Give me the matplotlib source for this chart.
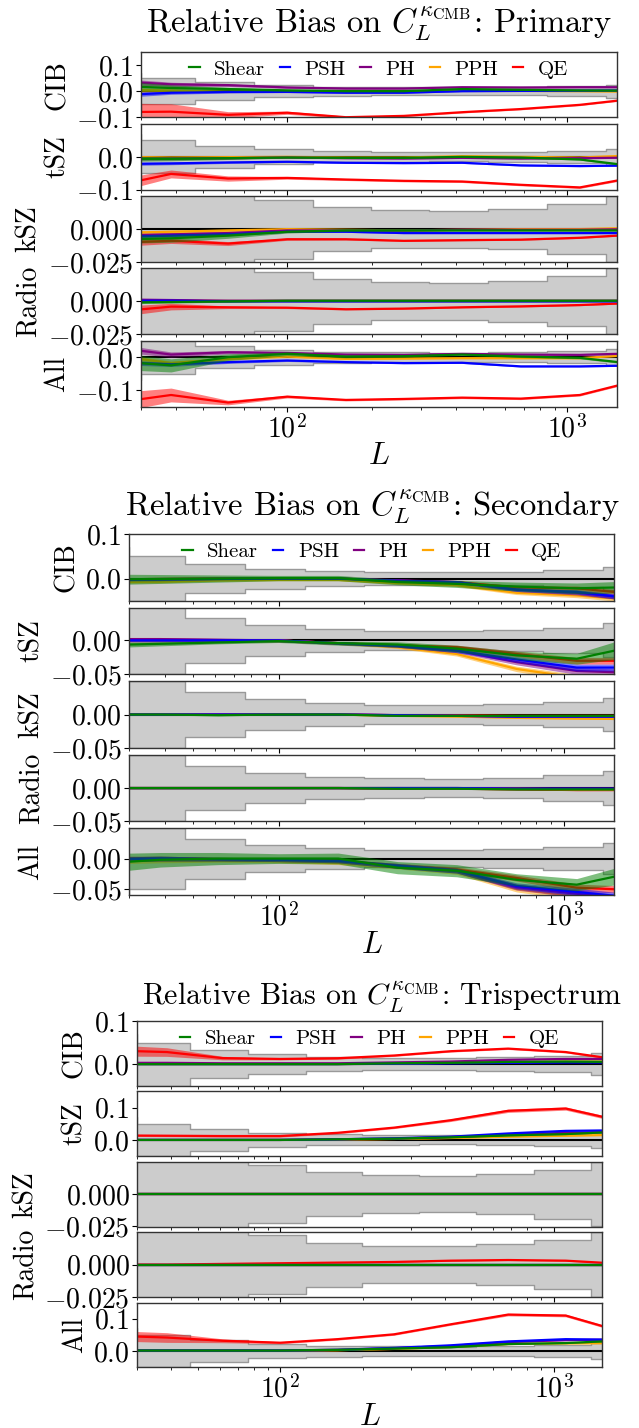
import numpy as np
import matplotlib
matplotlib.use('Agg')
import matplotlib.pyplot as plt

plt.rcParams['font.family'] = 'serif'
plt.rcParams['font.serif'] = ['cmr10', 'DejaVu Serif']
plt.rcParams['mathtext.fontset'] = 'cm'
plt.rcParams['axes.formatter.use_mathtext'] = True

# ---------------- data ----------------
L_centers = [24, 38.5, 61.5, 100, 162, 261, 421, 682, 1108, 1796]
bin_edges = [18.5, 30, 46.9, 76.2, 124, 199.5, 322, 520, 845, 1371, 2220]
sigma_band = [0.07, 0.05, 0.033, 0.0225, 0.017, 0.0145, 0.014, 0.0155, 0.019, 0.025, 0.025]

estimators = ['Shear', 'PSH', 'PH', 'PPH', 'QE']
colors = ['green', 'blue', 'purple', 'orange', 'red']
panels = ['CIB', 'tSZ', 'kSZ', 'Radio', 'All']

# Primary  (rows: Shear, PSH, PH, PPH, QE)
pri_cib = [[0.02, 0.012, 0.008, 0.003, 0.0, 0.0, 0.008, 0.005, 0.003, 0.002],
           [-0.016, -0.006, -0.003, -0.003, -0.006, -0.006, 0.0, 0.001, 0.002, 0.003],
           [0.038, 0.026, 0.023, 0.014, 0.01, 0.01, 0.015, 0.014, 0.015, 0.015],
           [0.005, 0.002, -0.002, 0.0, -0.002, -0.002, 0.003, 0.001, 0.0, -0.002],
           [-0.08, -0.078, -0.09, -0.082, -0.099, -0.094, -0.08, -0.068, -0.052, -0.027]]
pri_cib_err = [[0.02, 0.012, 0.006, 0.003, 0.002, 0.002, 0.002, 0.002, 0.002, 0.002],
               [0.01, 0.006, 0.004, 0.002, 0.002, 0.002, 0.002, 0.002, 0.002, 0.002],
               [0.012, 0.008, 0.005, 0.003, 0.002, 0.002, 0.002, 0.002, 0.002, 0.002],
               [0.01, 0.006, 0.004, 0.002, 0.002, 0.002, 0.002, 0.002, 0.002, 0.002],
               [0.035, 0.03, 0.012, 0.006, 0.004, 0.003, 0.003, 0.003, 0.003, 0.003]]
pri_tsz = [[-0.006, -0.006, -0.004, -0.002, -0.003, -0.003, 0.0, -0.002, -0.008, -0.03],
           [-0.022, -0.02, -0.017, -0.015, -0.018, -0.019, -0.018, -0.026, -0.028, -0.026],
           [-0.006, -0.005, -0.004, -0.002, -0.004, -0.005, -0.003, -0.005, -0.004, -0.002],
           [0.0, -0.002, -0.001, 0.0, -0.002, -0.002, 0.002, 0.0, -0.002, 0.005],
           [-0.089, -0.052, -0.066, -0.064, -0.069, -0.073, -0.075, -0.085, -0.093, -0.06]]
pri_tsz_err = [[0.008, 0.006, 0.004, 0.002, 0.002, 0.002, 0.002, 0.002, 0.002, 0.002],
               [0.005, 0.004, 0.003, 0.002, 0.002, 0.002, 0.002, 0.002, 0.002, 0.002],
               [0.005, 0.004, 0.003, 0.002, 0.002, 0.002, 0.002, 0.002, 0.002, 0.002],
               [0.005, 0.004, 0.003, 0.002, 0.002, 0.002, 0.002, 0.002, 0.002, 0.002],
               [0.02, 0.012, 0.008, 0.004, 0.003, 0.003, 0.003, 0.003, 0.003, 0.003]]
pri_ksz = [[-0.008, -0.007, -0.005, -0.002, -0.001, -0.001, -0.001, -0.001, -0.001, -0.001],
           [-0.006, -0.005, -0.004, -0.002, -0.002, -0.003, -0.003, -0.003, -0.003, -0.003],
           [-0.005, -0.004, -0.003, -0.001, -0.001, -0.001, -0.0005, -0.0005, -0.0005, 0.0],
           [-0.003, -0.002, -0.001, 0.0, -0.0005, -0.001, -0.0005, 0.0, 0.0, 0.001],
           [-0.0105, -0.0089, -0.011, -0.0077, -0.0077, -0.0089, -0.0084, -0.008, -0.0066, -0.004]]
pri_ksz_err = [[0.003, 0.003, 0.002, 0.001, 0.0006, 0.0005, 0.0005, 0.0005, 0.0005, 0.0005],
               [0.0015, 0.0012, 0.001, 0.0006, 0.0005, 0.0005, 0.0005, 0.0005, 0.0005, 0.0005],
               [0.0015, 0.0012, 0.001, 0.0006, 0.0005, 0.0005, 0.0005, 0.0005, 0.0005, 0.0005],
               [0.0015, 0.0012, 0.001, 0.0006, 0.0005, 0.0005, 0.0005, 0.0005, 0.0005, 0.0005],
               [0.003, 0.002, 0.0015, 0.0008, 0.0006, 0.0005, 0.0005, 0.0005, 0.0005, 0.0005]]
pri_radio = [[-0.001, -0.0005, 0.0, 0.0005, 0.0005, 0.0005, 0.0005, 0.0005, 0.0005, 0.0005],
             [0.0005, 0.0005, 0.0, 0.0, 0.0, 0.0, 0.0, 0.0, 0.0, 0.0],
             [0.0015, 0.001, 0.0005, 0.0005, 0.0005, 0.0005, 0.0005, 0.0005, 0.0005, 0.0005],
             [0.0, 0.0, 0.0, 0.0, 0.0, 0.0, 0.0, 0.0, 0.0, 0.0],
             [-0.008, -0.004, -0.0045, -0.0048, -0.006, -0.0055, -0.0045, -0.0038, -0.0028, -0.001]]
pri_radio_err = [[0.001, 0.0008, 0.0006, 0.0005, 0.0005, 0.0005, 0.0005, 0.0005, 0.0005, 0.0005],
                 [0.001, 0.0008, 0.0006, 0.0005, 0.0005, 0.0005, 0.0005, 0.0005, 0.0005, 0.0005],
                 [0.001, 0.0008, 0.0006, 0.0005, 0.0005, 0.0005, 0.0005, 0.0005, 0.0005, 0.0005],
                 [0.001, 0.0008, 0.0006, 0.0005, 0.0005, 0.0005, 0.0005, 0.0005, 0.0005, 0.0005],
                 [0.004, 0.0025, 0.001, 0.0007, 0.0005, 0.0005, 0.0005, 0.0005, 0.0005, 0.0005]]
pri_all = [[-0.012, -0.025, 0.0, 0.01, 0.002, 0.003, 0.008, 0.002, -0.002, -0.022],
           [-0.015, -0.022, -0.015, -0.01, -0.015, -0.018, -0.017, -0.028, -0.028, -0.025],
           [0.03, 0.008, 0.015, 0.013, 0.008, 0.007, 0.01, 0.008, 0.007, 0.012],
           [0.005, -0.018, -0.005, 0.002, -0.005, -0.004, -0.003, -0.003, -0.003, 0.008],
           [-0.139, -0.115, -0.138, -0.12, -0.13, -0.127, -0.123, -0.126, -0.115, -0.07]]
pri_all_err = [[0.025, 0.02, 0.01, 0.006, 0.004, 0.003, 0.003, 0.003, 0.003, 0.003],
               [0.008, 0.006, 0.004, 0.003, 0.002, 0.002, 0.002, 0.002, 0.002, 0.002],
               [0.012, 0.008, 0.005, 0.003, 0.002, 0.002, 0.002, 0.002, 0.002, 0.002],
               [0.008, 0.006, 0.004, 0.003, 0.002, 0.002, 0.002, 0.002, 0.002, 0.002],
               [0.03, 0.021, 0.007, 0.004, 0.003, 0.003, 0.003, 0.003, 0.003, 0.003]]

# Secondary
sec_cib = [[-0.002, -0.001, 0.0, 0.001, 0.001, -0.008, -0.012, -0.018, -0.022, -0.019],
           [-0.003, -0.002, -0.001, 0.0, 0.0, -0.005, -0.008, -0.025, -0.03, -0.046],
           [-0.002, -0.001, 0.0, 0.0, 0.0, -0.004, -0.008, -0.025, -0.032, -0.045],
           [-0.008, -0.007, -0.004, -0.003, -0.003, -0.01, -0.015, -0.032, -0.038, -0.049],
           [-0.002, -0.001, 0.0, 0.0, 0.0, -0.005, -0.008, -0.02, -0.022, -0.035]]
sec_cib_err = [[0.012, 0.01, 0.008, 0.006, 0.006, 0.006, 0.008, 0.01, 0.012, 0.014],
               [0.003, 0.003, 0.002, 0.002, 0.002, 0.003, 0.003, 0.004, 0.005, 0.006],
               [0.003, 0.003, 0.002, 0.002, 0.002, 0.003, 0.003, 0.004, 0.005, 0.006],
               [0.003, 0.003, 0.002, 0.002, 0.002, 0.003, 0.003, 0.004, 0.005, 0.006],
               [0.003, 0.003, 0.002, 0.002, 0.002, 0.003, 0.003, 0.004, 0.005, 0.006]]
sec_tsz = [[-0.007, -0.005, -0.003, -0.001, -0.004, -0.006, -0.012, -0.022, -0.027, -0.008],
           [0.0, 0.0, 0.0, 0.0, -0.004, -0.008, -0.015, -0.028, -0.04, -0.04],
           [0.002, 0.002, 0.001, 0.0, -0.004, -0.008, -0.015, -0.032, -0.045, -0.048],
           [0.0, 0.0, 0.0, 0.0, -0.004, -0.01, -0.02, -0.042, -0.055, -0.065],
           [0.0, 0.0, 0.0, 0.0, -0.004, -0.007, -0.01, -0.02, -0.03, -0.03]]
sec_tsz_err = [[0.004, 0.003, 0.002, 0.002, 0.003, 0.004, 0.005, 0.006, 0.008, 0.016],
               [0.002, 0.002, 0.002, 0.002, 0.002, 0.002, 0.003, 0.004, 0.005, 0.005],
               [0.002, 0.002, 0.002, 0.002, 0.002, 0.002, 0.003, 0.004, 0.005, 0.005],
               [0.002, 0.002, 0.002, 0.002, 0.002, 0.002, 0.003, 0.004, 0.005, 0.005],
               [0.002, 0.002, 0.002, 0.002, 0.002, 0.002, 0.003, 0.004, 0.005, 0.005]]
sec_ksz = [[0.0, 0.0, -0.001, 0.0, 0.0, -0.002, -0.002, -0.002, -0.002, -0.002],
           [0.0, 0.0, 0.0, 0.0, 0.0, -0.001, -0.002, -0.003, -0.003, -0.003],
           [0.0, 0.0, 0.0, 0.0, 0.0, -0.001, -0.002, -0.003, -0.003, -0.003],
           [0.0, 0.0, 0.0, 0.0, 0.0, -0.002, -0.003, -0.005, -0.006, -0.007],
           [0.0, 0.0, 0.0, 0.0, 0.0, -0.001, -0.001, -0.002, -0.002, -0.002]]
sec_ksz_err = [[0.001] * 10, [0.001] * 10, [0.001] * 10, [0.001] * 10, [0.001] * 10]
sec_radio = [[0.0, 0.0, 0.0, 0.0, 0.0, -0.001, -0.001, -0.002, -0.002, -0.002],
             [0.0, 0.0, 0.0, 0.0, 0.0, 0.0, 0.0, -0.001, -0.001, -0.001],
             [0.0, 0.0, 0.0, 0.0, 0.0, 0.0, 0.0, -0.001, -0.001, -0.001],
             [0.0, 0.0, 0.0, 0.0, 0.0, 0.0, -0.001, -0.001, -0.002, -0.002],
             [0.0, 0.0, 0.0, 0.0, 0.0, -0.001, -0.001, -0.002, -0.003, -0.003]]
sec_radio_err = [[0.001] * 10, [0.0008] * 10, [0.0008] * 10, [0.0008] * 10, [0.0008] * 10]
sec_all = [[-0.008, -0.002, 0.0, 0.0, 0.0, -0.015, -0.02, -0.035, -0.043, -0.022],
           [-0.002, 0.0, -0.001, -0.002, -0.004, -0.012, -0.02, -0.045, -0.055, -0.065],
           [0.0, 0.0, -0.001, -0.002, -0.004, -0.012, -0.02, -0.047, -0.058, -0.068],
           [-0.005, -0.003, -0.003, -0.004, -0.007, -0.013, -0.022, -0.05, -0.062, -0.07],
           [-0.002, 0.0, -0.001, -0.002, -0.004, -0.012, -0.018, -0.032, -0.048, -0.052]]
sec_all_err = [[0.016, 0.012, 0.01, 0.008, 0.009, 0.01, 0.01, 0.01, 0.01, 0.016],
               [0.004, 0.004, 0.003, 0.003, 0.003, 0.004, 0.004, 0.005, 0.006, 0.006],
               [0.004, 0.004, 0.003, 0.003, 0.003, 0.004, 0.004, 0.005, 0.006, 0.006],
               [0.004, 0.004, 0.003, 0.003, 0.003, 0.004, 0.004, 0.005, 0.006, 0.006],
               [0.004, 0.004, 0.003, 0.003, 0.003, 0.004, 0.004, 0.005, 0.006, 0.006]]

# Trispectrum
tri_cib = [[0.0, 0.0, 0.0, 0.0, 0.0, 0.002, 0.003, 0.005, 0.006, 0.005],
           [0.0, 0.0, 0.0, 0.0, 0.0, 0.001, 0.002, 0.003, 0.004, 0.004],
           [0.003, 0.003, 0.002, 0.002, 0.002, 0.004, 0.006, 0.01, 0.012, 0.012],
           [0.0, 0.0, 0.0, 0.0, 0.0, 0.001, 0.003, 0.004, 0.006, 0.006],
           [0.0317, 0.028, 0.014, 0.012, 0.0136, 0.02, 0.03, 0.036, 0.028, 0.009]]
tri_cib_err = [[0.001] * 10, [0.001] * 10, [0.001] * 10, [0.001] * 10,
               [0.013, 0.01, 0.004, 0.002, 0.002, 0.002, 0.002, 0.002, 0.002, 0.002]]
tri_tsz = [[0.0, 0.0, 0.0, 0.0, 0.002, 0.004, 0.008, 0.014, 0.018, 0.026],
           [0.0, 0.0, 0.0, 0.0, 0.002, 0.005, 0.01, 0.02, 0.028, 0.03],
           [0.0, 0.0, 0.0, 0.0, 0.002, 0.004, 0.009, 0.016, 0.022, 0.025],
           [0.0, 0.0, 0.0, 0.0, 0.001, 0.003, 0.006, 0.01, 0.013, 0.016],
           [0.014, 0.013, 0.012, 0.012, 0.022, 0.038, 0.061, 0.09, 0.097, 0.057]]
tri_tsz_err = [[0.0015] * 10, [0.0015] * 10, [0.0015] * 10, [0.0015] * 10,
               [0.003, 0.003, 0.003, 0.003, 0.003, 0.003, 0.004, 0.005, 0.005, 0.005]]
tri_ksz = [[0.0] * 10, [0.0] * 10, [0.0] * 10, [0.0] * 10,
           [0.0005, 0.0005, 0.0005, 0.0005, 0.0005, 0.0005, 0.0005, 0.0005, 0.0005, 0.0005]]
tri_ksz_err = [[0.0004] * 10, [0.0004] * 10, [0.0004] * 10, [0.0004] * 10, [0.0004] * 10]
tri_radio = [[0.0] * 10, [0.0] * 10, [0.0] * 10, [0.0] * 10,
             [0.0, 0.0, 0.0005, 0.001, 0.0015, 0.002, 0.003, 0.0035, 0.003, 0.0005]]
tri_radio_err = [[0.0004] * 10, [0.0004] * 10, [0.0004] * 10, [0.0004] * 10, [0.0004] * 10]
tri_all = [[0.002, 0.002, 0.002, 0.002, 0.004, 0.008, 0.012, 0.022, 0.025, 0.033],
           [0.002, 0.002, 0.002, 0.002, 0.004, 0.01, 0.018, 0.03, 0.037, 0.035],
           [0.002, 0.002, 0.002, 0.002, 0.004, 0.009, 0.016, 0.028, 0.034, 0.036],
           [0.001, 0.001, 0.001, 0.001, 0.003, 0.007, 0.013, 0.022, 0.024, 0.025],
           [0.0476, 0.042, 0.032, 0.026, 0.037, 0.052, 0.083, 0.113, 0.11, 0.059]]
tri_all_err = [[0.002] * 10, [0.002] * 10, [0.002] * 10, [0.002] * 10,
               [0.016, 0.015, 0.006, 0.003, 0.003, 0.003, 0.003, 0.004, 0.004, 0.004]]

blocks = [
    dict(name='Primary',
         data=[pri_cib, pri_tsz, pri_ksz, pri_radio, pri_all],
         err=[pri_cib_err, pri_tsz_err, pri_ksz_err, pri_radio_err, pri_all_err],
         ylims=[(-0.1, 0.15), (-0.1, 0.1), (-0.025, 0.025), (-0.025, 0.025), (-0.15, 0.05)],
         yticks=[[-0.1, 0.0, 0.1], [-0.1, 0.0], [-0.025, 0.0], [-0.025, 0.0], [-0.1, 0.0]],
         ytl=[['-0.1', '0.0', '0.1'], ['-0.1', '0.0'], ['-0.025', '0.000'], ['-0.025', '0.000'], ['-0.1', '0.0']],
         x0=140.7, x1=616.7, top=51.7, bottom=406.5, gap=6.5,
         tsize=23.5, tpad=14, tx=0.5),
    dict(name='Secondary',
         data=[sec_cib, sec_tsz, sec_ksz, sec_radio, sec_all],
         err=[sec_cib_err, sec_tsz_err, sec_ksz_err, sec_radio_err, sec_all_err],
         ylims=[(-0.05, 0.1), (-0.05, 0.0485), (-0.05, 0.05), (-0.05, 0.05), (-0.06, 0.05)],
         yticks=[[0.0, 0.1], [-0.05, 0.0], [-0.05, 0.0], [-0.05, 0.0], [-0.05, 0.0]],
         ytl=[['0.0', '0.1'], ['-0.05', '0.00'], ['-0.05', '0.00'], ['-0.05', '0.00'], ['-0.05', '0.00']],
         x0=129.3, x1=614.3, top=534.0, bottom=895.0, gap=6.75,
         tsize=23.5, tpad=13, tx=0.5),
    dict(name='Trispectrum',
         data=[tri_cib, tri_tsz, tri_ksz, tri_radio, tri_all],
         err=[tri_cib_err, tri_tsz_err, tri_ksz_err, tri_radio_err, tri_all_err],
         ylims=[(-0.05, 0.1), (-0.05, 0.15), (-0.025, 0.025), (-0.025, 0.025), (-0.05, 0.15)],
         yticks=[[0.0, 0.1], [0.0, 0.1], [-0.025, 0.0], [-0.025, 0.0], [0.0, 0.1]],
         ytl=[['0.0', '0.1'], ['0.0', '0.1'], ['-0.025', '0.000'], ['-0.025', '0.000'], ['0.0', '0.1']],
         x0=137.3, x1=601.7, top=1021.0, bottom=1367.3, gap=5.7,
         tsize=21.5, tpad=11, tx=0.527),
]

W, H = 639, 1428
fig = plt.figure(figsize=(W / 100, H / 100), dpi=100)

L = np.array(L_centers)
for blk in blocks:
    n = len(panels)
    h = (blk['bottom'] - blk['top'] - (n - 1) * blk['gap']) / n
    for i, pname in enumerate(panels):
        ytop = blk['top'] + i * (h + blk['gap'])
        rect = [blk['x0'] / W, 1 - (ytop + h) / H, (blk['x1'] - blk['x0']) / W, h / H]
        ax = fig.add_axes(rect)
        ax.set_xscale('log')
        ax.fill_between(bin_edges, -np.array(sigma_band), np.array(sigma_band), step='post',
                        facecolor='#cccccc', edgecolor='#999999', lw=1.0, zorder=0)
        ax.axhline(0, color='black', lw=1.5, zorder=1)
        handles = {}
        for k in [4, 3, 2, 1, 0]:
            v = np.array(blk['data'][i][k])
            e = np.array(blk['err'][i][k])
            ax.fill_between(L, v - e, v + e, color=colors[k], alpha=0.5, lw=0, zorder=2)
            ln, = ax.plot(L, v, color=colors[k], lw=1.6, zorder=2, label=estimators[k])
            handles[k] = ln
        ax.set_xlim(30, 1500)
        ax.set_ylim(*blk['ylims'][i])
        ax.set_yticks(blk['yticks'][i])
        ax.set_yticklabels(['$' + t + '$' for t in blk['ytl'][i]])
        ax.tick_params(axis='both', which='major', labelsize=20, pad=2)
        ax.set_ylabel(pname, fontsize=20, labelpad=4)
        for sp in ax.spines.values():
            sp.set_linewidth(1.0)
            sp.set_color('#333333')
        if i < n - 1:
            ax.tick_params(axis='x', which='both', labelbottom=False)
        else:
            ax.set_xlabel('$L$', fontsize=22, labelpad=0)
        if i == 0:
            ax.set_title(r'Relative Bias on $C_L^{\kappa_{\rm CMB}}$: ' + blk['name'],
                         fontsize=blk['tsize'], pad=blk['tpad'], x=blk['tx'])
            ax.legend([handles[k] for k in range(5)], estimators, loc='upper center',
                      ncol=5, frameon=False, fontsize=15, handlelength=0.5,
                      columnspacing=0.7, handletextpad=0.7, borderaxespad=0.0)

fig.savefig('out.png', dpi=100)
